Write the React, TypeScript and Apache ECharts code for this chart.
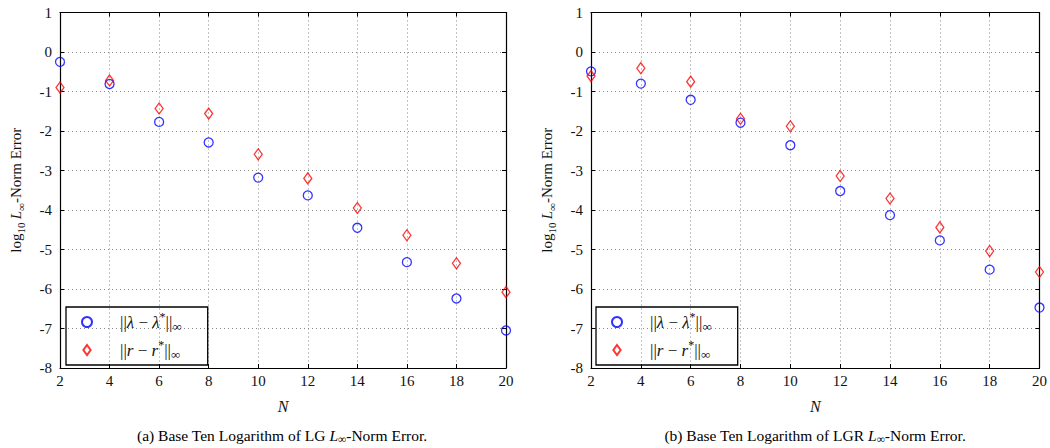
import React, { useEffect, useRef } from 'react';
import * as echarts from 'echarts';

const nValues = [2, 4, 6, 8, 10, 12, 14, 16, 18, 20];
const lgLambdaErr = [-0.25, -0.81, -1.77, -2.29, -3.18, -3.63, -4.45, -5.32, -6.24, -7.05];
const lgRErr = [-0.9, -0.72, -1.43, -1.56, -2.59, -3.2, -3.95, -4.64, -5.35, -6.08];
const lgrLambdaErr = [-0.49, -0.8, -1.21, -1.79, -2.36, -3.52, -4.13, -4.77, -5.51, -6.47];
const lgrRErr = [-0.61, -0.41, -0.75, -1.69, -1.88, -3.14, -3.71, -4.44, -5.04, -5.57];

const LAM = '‖λ − λ*‖∞';
const RR = '‖r − r*‖∞';
const captions = ['(a) Base Ten Logarithm of LG ', '(b) Base Ten Logarithm of LGR '];

const SERIF = "'Liberation Serif', 'DejaVu Serif', serif";

function makeRich(size: number) {
  return {
    n: { fontFamily: SERIF, fontSize: size, color: '#111', lineHeight: size + 5 },
    i: { fontFamily: SERIF, fontSize: size, color: '#111', fontStyle: 'italic', lineHeight: size + 5 },
    sup: { fontFamily: SERIF, fontSize: size - 5, color: '#111', verticalAlign: 'top', lineHeight: size - 3 },
    sub: { fontFamily: SERIF, fontSize: size - 4, color: '#111', verticalAlign: 'bottom', lineHeight: size - 4 },
  };
}

const DIAMOND = 'path://M4,0L8,5.5L4,11L0,5.5Z';

export default function App() {
  const ref = useRef<HTMLDivElement>(null);
  useEffect(() => {
    if (!ref.current) return;
    const chart = echarts.init(ref.current, null, { renderer: 'svg' });
    const grids = [
      { left: 60, top: 12.5, width: 446, height: 355.5 },
      { left: 591, top: 12.5, width: 450, height: 355.5 },
    ];
    const gridLine = { show: true, lineStyle: { type: [1, 3], color: '#888', width: 1 } };
    const xAxes: any[] = [];
    const yAxes: any[] = [];
    grids.forEach((_, k) => {
      xAxes.push({
        type: 'value',
        gridIndex: k,
        min: 2,
        max: 20,
        interval: 2,
        name: 'N',
        nameLocation: 'middle',
        nameGap: 30,
        nameTextStyle: { fontFamily: SERIF, fontStyle: 'italic', fontSize: 16, color: '#111' },
        axisLine: { show: true, onZero: false, lineStyle: { color: '#000', width: 1.2 } },
        axisTick: { show: true, inside: true, length: 4, lineStyle: { color: '#000' } },
        axisLabel: { fontFamily: SERIF, fontSize: 15, color: '#111', margin: 5 },
        splitLine: gridLine,
      });
      xAxes.push({
        type: 'value',
        gridIndex: k,
        position: 'top',
        min: 2,
        max: 20,
        interval: 2,
        axisLine: { show: true, onZero: false, lineStyle: { color: '#000', width: 1.2 } },
        axisTick: { show: true, inside: true, length: 4, lineStyle: { color: '#000' } },
        axisLabel: { show: false },
        splitLine: { show: false },
      });
      yAxes.push({
        type: 'value',
        gridIndex: k,
        min: -8,
        max: 1,
        interval: 1,
        name: '{n|log}{sub|10} {i|L}{sub|∞}{n|-Norm Error}',
        nameLocation: 'middle',
        nameGap: 34,
        nameRotate: 90,
        nameTextStyle: { rich: makeRich(15) },
        axisLine: { show: true, onZero: false, lineStyle: { color: '#000', width: 1.2 } },
        axisTick: { show: true, inside: true, length: 4, lineStyle: { color: '#000' } },
        axisLabel: { fontFamily: SERIF, fontSize: 15, color: '#111', margin: 8 },
        splitLine: gridLine,
      });
      yAxes.push({
        type: 'value',
        gridIndex: k,
        position: 'right',
        min: -8,
        max: 1,
        interval: 1,
        axisLine: { show: true, onZero: false, lineStyle: { color: '#000', width: 1.2 } },
        axisTick: { show: true, inside: true, length: 4, lineStyle: { color: '#000' } },
        axisLabel: { show: false },
        splitLine: { show: false },
      });
    });
    const sets = [
      [lgLambdaErr, lgRErr],
      [lgrLambdaErr, lgrRErr],
    ];
    const series: any[] = [];
    sets.forEach((pair, k) => {
      series.push({
        type: 'scatter',
        name: LAM,
        xAxisIndex: 2 * k,
        yAxisIndex: 2 * k,
        data: nValues.map((n, i) => [n, pair[0][i]]),
        symbol: 'circle',
        symbolSize: 9,
        itemStyle: { color: 'rgba(0,0,0,0)', borderColor: '#0000ff', borderWidth: 1.3 },
        z: 3,
      });
      series.push({
        type: 'scatter',
        name: RR,
        xAxisIndex: 2 * k,
        yAxisIndex: 2 * k,
        data: nValues.map((n, i) => [n, pair[1][i]]),
        symbol: DIAMOND,
        symbolSize: [8, 11],
        itemStyle: { color: 'rgba(0,0,0,0)', borderColor: '#ff0000', borderWidth: 1.3 },
        z: 4,
      });
    });
    const legendFormatter = (name: string) =>
      name === LAM
        ? '{n|||}{i|λ}{n| − }{i|λ}{sup|*}{n|||}{sub|∞}'
        : '{n|||}{i|r}{n| − }{i|r}{sup|*}{n|||}{sub|∞}';
    const legends = [66, 596].map((left) => ({
      orient: 'vertical',
      left,
      top: 307,
      padding: [4, 26, 4, 15],
      itemGap: 6,
      itemWidth: 10,
      itemHeight: 10,
      borderColor: '#000',
      borderWidth: 1.3,
      selectedMode: false,
      data: [LAM, RR],
      formatter: legendFormatter,
      textStyle: { rich: makeRich(17), padding: [0, 0, 0, 23] },
    }));
    const captionCenters = [282, 815];
    const graphic = captions.map((c, k) => ({
      type: 'text',
      x: captionCenters[k],
      y: 435,
      style: {
        text: `{n|${c}}{i|L}{sub|∞}{n|-Norm Error.}`,
        rich: makeRich(15.5),
        align: 'center',
        verticalAlign: 'middle',
      },
    }));
    chart.setOption({
      animation: false,
      backgroundColor: '#fff',
      grid: grids.map((g) => ({ ...g, show: false })),
      xAxis: xAxes,
      yAxis: yAxes,
      legend: legends,
      series,
      graphic,
    });
    return () => chart.dispose();
  }, []);
  return (
    <div
      ref={ref}
      style={{ position: 'fixed', left: 0, top: 0, width: 1050, height: 448, background: '#fff' }}
    />
  );
}
